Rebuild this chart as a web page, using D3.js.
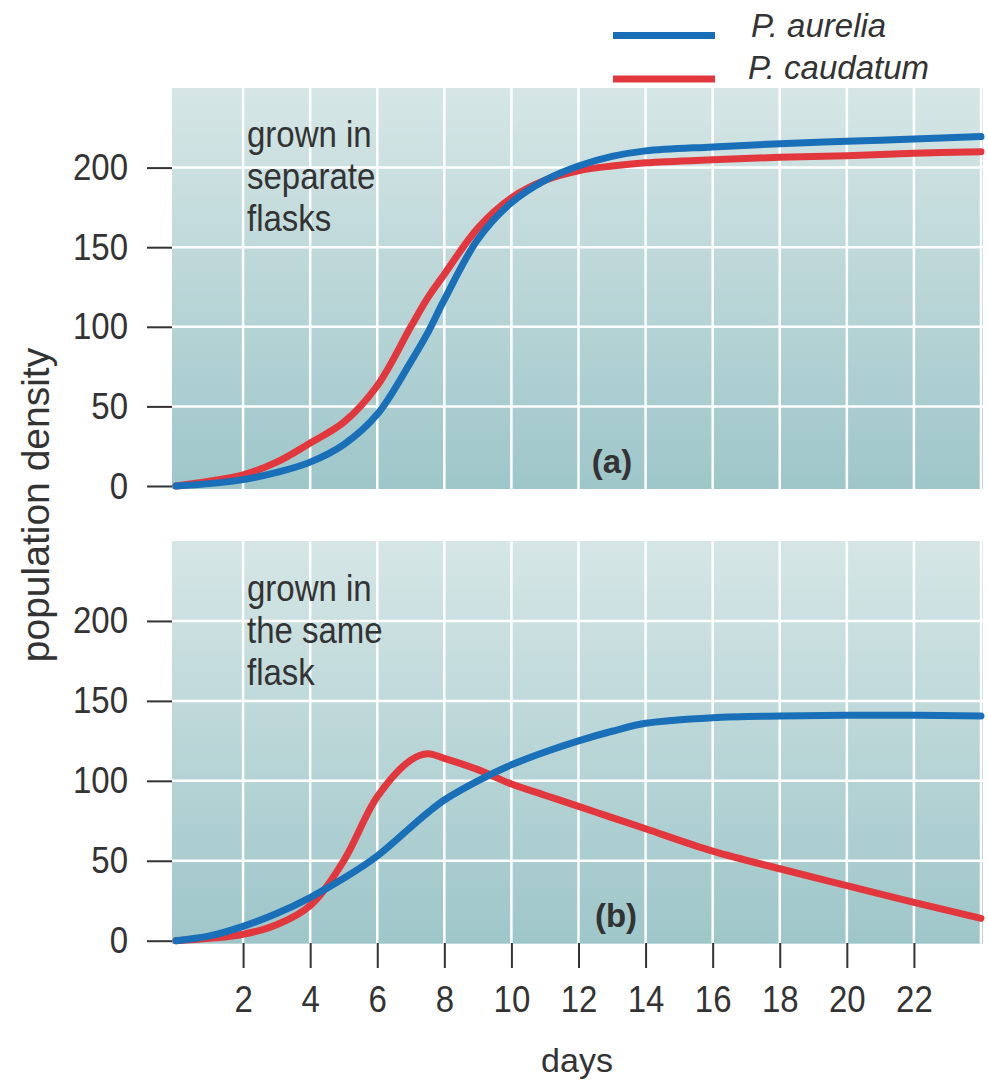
<!DOCTYPE html>
<html>
<head>
<meta charset="utf-8">
<script src="https://cdn.jsdelivr.net/npm/d3@7"></script>
<style>
  body { margin:0; background:#fff; }
  text { font-family:"Liberation Sans", Arial, Helvetica, sans-serif; fill:#333; }
</style>
</head>
<body>
<div id="container"></div>
<script>
// Data ---------- ---------- ----------
let days = [0,1,2,3,4,5,6,7,7.5,8,9,10,11,12,13,14,16,18,20,22,24];
// (a) grown in separate flasks
let aureliaAlone  = [0,1.5,4,8.5,15,26,45,78,96,117,155,178,192,201,207,210.5,213,215,216.5,218,219.5];
let caudatumAlone = [0,3,7,15,27,40,63,100,118,133,162,181,192,198,201,203,205,206.5,207.5,209,210];
// (b) grown in the same flask
let aureliaMixed  = [0,3,9,17,27,39,53,71,80,88,100,110,118,125,131,136,139.5,140.5,141,141,140.5];
let caudatumMixed = [0,1.5,4,10,22,50,90,113,117,114,107,98,91,84,77,70,56,45,34.5,24,14];
let yTicks = [0,50,100,150,200], xTicks = [2,4,6,8,10,12,14,16,18,20,22], gridDays = [2,4,6,8,10,12,14,16,18,20,22,24];
let series = ["P. aurelia", "P. caudatum"];

// Hard Code values ---------- ---------- ----------
let canvasW = 988, canvasH = 1083;
let blue = "#1a70b8", red = "#e2373d", lineW = 7, stretch = 1.1;
let panels = [
  {top:88,  zero:486,   data:[aureliaAlone, caudatumAlone], note:["grown in","separate","flasks"], noteY:[147,189,231], tag:"(a)", tagX:612, tagY:473, xAxis:false},
  {top:541, zero:940.7, data:[aureliaMixed, caudatumMixed], note:["grown in","the same","flask"],  noteY:[601,643,685], tag:"(b)", tagX:616, tagY:927, xAxis:true}
];

let svg = d3.select("#container").append("svg").attr("width", canvasW).attr("height", canvasH);
let grad = svg.append("defs").append("linearGradient").attr("id","bg").attr("x1",0).attr("y1",0).attr("x2",0).attr("y2",1);
grad.append("stop").attr("offset","0%").attr("stop-color","#d6e6e6");
grad.append("stop").attr("offset","100%").attr("stop-color","#9ec6c9");

let xScale = d3.scaleLinear().domain([0,24]).range([176,981]);

// Panels ---------- ---------- ----------
panels.forEach(p=>{
  let yScale = d3.scaleLinear().domain([0,250]).range([p.zero, p.top]);
  let g = svg.append("g");

  g.append("rect").attr("x", xScale(0)-4).attr("y", p.top)
    .attr("width", xScale(24)-xScale(0)+6).attr("height", p.zero-p.top+3).attr("fill","url(#bg)");

  // grid
  g.selectAll(".vgrid").data(gridDays).enter().append("line")
    .attr("x1", d=>xScale(d)).attr("x2", d=>xScale(d)).attr("y1", p.top).attr("y2", p.zero+3)
    .attr("stroke","#fff").attr("stroke-width",2.5);
  g.selectAll(".hgrid").data(yTicks.slice(1)).enter().append("line")
    .attr("x1", xScale(0)-4).attr("x2", xScale(24)+2).attr("y1", d=>yScale(d)).attr("y2", d=>yScale(d))
    .attr("stroke","#fff").attr("stroke-width",2.5);

  // y axis
  let ya = g.append("g").attr("transform","translate("+(xScale(0)-4)+",0)")
    .call(d3.axisLeft(yScale).tickValues(yTicks).tickSize(25));
  ya.select(".domain").remove();
  ya.selectAll("line").attr("stroke","#333").attr("stroke-width",2);
  ya.attr("font-size",33).attr("font-family",null);
  ya.selectAll("text").attr("x",0).attr("y",0).attr("dy",null).attr("fill","#333")
    .attr("transform","translate(-44,12) scale(1,"+stretch+")");

  // x axis (bottom panel only)
  if(p.xAxis){
    let xa = g.append("g").attr("transform","translate(0,"+(p.zero+2.3)+")")
      .call(d3.axisBottom(xScale).tickValues(xTicks).tickSize(25));
    xa.select(".domain").remove();
    xa.selectAll("line").attr("stroke","#333").attr("stroke-width",2);
    xa.attr("font-size",33).attr("font-family",null);
    xa.selectAll("text").attr("y",0).attr("dy",null).attr("fill","#333")
      .attr("transform","translate(0,69) scale(1,"+stretch+")");
  }

  // curves
  let line = d3.line().x((d,i)=>xScale(days[i])).y(d=>yScale(d)).curve(d3.curveCatmullRom.alpha(0.5));
  let paths = g.selectAll(".curve").data(p.data).enter().append("path")
    .attr("d", line).attr("fill","none").attr("stroke",(d,i)=> i==0 ? blue : red)
    .attr("stroke-width", lineW).attr("stroke-linecap","round");
  paths.filter((d,i)=>i==0).raise(); // blue sits on top

  // labels
  p.note.forEach((t,i)=>{
    g.append("text").attr("transform","translate(247,"+p.noteY[i]+") scale(1,"+stretch+")")
      .attr("font-size",33).text(t);
  });
  g.append("text").attr("x",p.tagX).attr("y",p.tagY).attr("text-anchor","middle")
    .attr("font-size",33).attr("font-weight","bold").attr("fill","#2a2a2a").text(p.tag);
});

// Legend ---------- ---------- ----------
let legY = [35.5, 79], legTextY = [37, 79], legTextX = [751, 748];
series.forEach((s,i)=>{
  svg.append("line").attr("x1",613).attr("x2",715).attr("y1",legY[i]).attr("y2",legY[i])
    .attr("stroke", i==0 ? blue : red).attr("stroke-width",lineW);
  svg.append("text").attr("x",legTextX[i]).attr("y",legTextY[i]).attr("font-size",33)
    .attr("font-style","italic").text(s);
});

// Axis titles ---------- ---------- ----------
svg.append("text").attr("x",577).attr("y",1072).attr("text-anchor","middle").attr("font-size",34).text("days");
svg.append("text").attr("transform","translate(49,505) rotate(-90)").attr("text-anchor","middle")
  .attr("font-size",39).text("population density");
</script>
</body>
</html>
